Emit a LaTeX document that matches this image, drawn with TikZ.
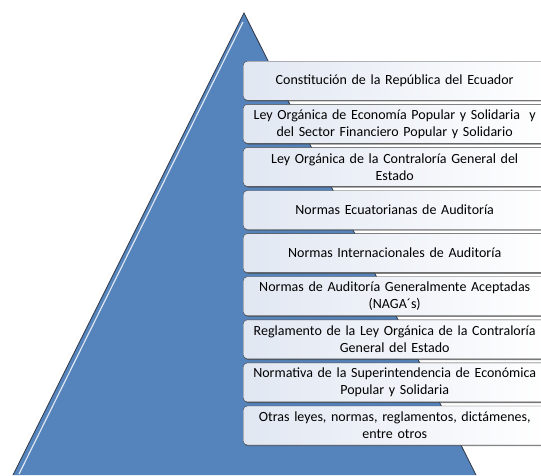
\documentclass[tikz,border=0pt]{standalone}
\usepackage{fontspec}
\setmainfont{Carlito}
\usepackage{tikz}
\usetikzlibrary{positioning,shadows}
\usepackage{xcolor}
\definecolor{pyrblue}{RGB}{85,131,188}
\definecolor{pyredge}{RGB}{45,55,70}
\definecolor{boxleft}{RGB}{225,231,242}

\begin{document}
\begin{tikzpicture}[
  x=1pt, y=-1pt,
  law/.style={draw=black!75, rounded corners=4pt, left color=boxleft, right color=white,
    text width=300pt, inner xsep=1.5pt, inner ysep=0pt,
    minimum height=39pt, align=center, font=\fontsize{14}{17}\selectfont,
    drop shadow={shadow xshift=0.8pt, shadow yshift=-1.2pt, opacity=0.7, fill=black!70}},
  gloss/.style={white, line width=1.2pt, opacity=0.8},
]
\useasboundingbox (0,0) rectangle (541,475);

% ─── Pyramid ───
\fill[pyrblue] (244,13) -- (476,475) -- (13,475) -- cycle;
\draw[pyredge, line width=0.8pt] (13,475) -- (244,13) -- (476,475);
\draw[gloss] (243,22) -- (19,474);

% ─── Levels ───
\node[law, anchor=north west] (l1) at (243,61) {Constitución de la República del Ecuador};
\node[law, below=3.7pt of l1] (l2) {Ley Orgánica de Economía Popular y Solidaria~ y\\del Sector Financiero Popular y Solidario};
\node[law, below=3.7pt of l2] (l3) {Ley Orgánica de la Contraloría General del\\Estado};
\node[law, below=3.7pt of l3] (l4) {Normas Ecuatorianas de Auditoría};
\node[law, below=3.7pt of l4] (l5) {Normas Internacionales de Auditoría};
\node[law, below=3.7pt of l5] (l6) {Normas de Auditoría Generalmente Aceptadas\\(NAGA´s)};
\node[law, below=3.7pt of l6] (l7) {Reglamento de la Ley Orgánica de la Contraloría\\General del Estado};
\node[law, below=3.7pt of l7] (l8) {Normativa de la Superintendencia de Económica\\Popular y Solidaria};
\node[law, below=3.7pt of l8] (l9) {Otras leyes, normas, reglamentos, dictámenes,\\entre otros};

\end{tikzpicture}
\end{document}
